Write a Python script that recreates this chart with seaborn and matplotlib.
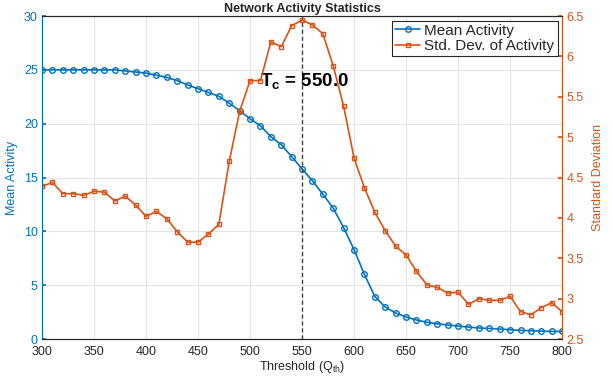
import numpy as np
import pandas as pd
import seaborn as sns
import matplotlib
matplotlib.use('Agg')
import matplotlib.pyplot as plt

# data
threshold = list(range(300, 801, 10))
mean_activity = [25.0, 25.0, 25.0, 25.0, 25.0, 25.0, 25.0, 25.0, 24.9, 24.8,
                 24.7, 24.5, 24.3, 24.0, 23.6, 23.25, 22.9, 22.55, 21.9, 21.2,
                 20.45, 19.8, 18.8, 18.05, 16.95, 15.8, 14.7, 13.45, 12.15, 10.35,
                 8.3, 6.0, 3.95, 2.97, 2.42, 2.05, 1.77, 1.56, 1.42, 1.31,
                 1.21, 1.12, 1.03, 0.99, 0.93, 0.87, 0.81, 0.77, 0.74, 0.71, 0.71]
std_activity = [4.39, 4.44, 4.30, 4.30, 4.28, 4.33, 4.32, 4.21, 4.27, 4.16,
                4.02, 4.08, 3.99, 3.83, 3.70, 3.70, 3.80, 3.92, 4.70, 5.32,
                5.70, 5.70, 6.18, 6.12, 6.38, 6.45, 6.39, 6.28, 5.88, 5.38,
                4.74, 4.37, 4.07, 3.84, 3.65, 3.54, 3.34, 3.17, 3.14, 3.07,
                3.08, 2.93, 3.00, 2.98, 2.98, 3.03, 2.84, 2.80, 2.89, 2.95, 2.84]
t_c = 550.0

df = pd.DataFrame({'threshold': threshold, 'mean': mean_activity, 'std': std_activity})

blue = '#0072BD'
orange = '#D95319'
dark = '#262626'

sns.set_theme(style='white')
plt.rcParams['font.family'] = ['Liberation Sans', 'DejaVu Sans']
plt.rcParams['mathtext.fontset'] = 'custom'
plt.rcParams['mathtext.rm'] = 'Liberation Sans'
plt.rcParams['mathtext.bf'] = 'Liberation Sans:bold'
plt.rcParams['mathtext.it'] = 'Liberation Sans:italic'
plt.rcParams['xtick.direction'] = 'in'
plt.rcParams['ytick.direction'] = 'in'

fig, ax = plt.subplots(figsize=(6.13, 3.81), dpi=100)
fig.subplots_adjust(left=0.0685, right=0.917, top=0.958, bottom=0.11)
ax2 = ax.twinx()

sns.lineplot(data=df, x='threshold', y='mean', ax=ax, color=blue, marker='o',
             markersize=4, markerfacecolor='none', markeredgecolor=blue,
             markeredgewidth=1, linewidth=1.2, label='Mean Activity', legend=False)
sns.lineplot(data=df, x='threshold', y='std', ax=ax2, color=orange, marker='s',
             markersize=3.5, markerfacecolor='none', markeredgecolor=orange,
             markeredgewidth=1, linewidth=1.2, label='Std. Dev. of Activity', legend=False)

ax.axvline(t_c, color='#444444', linestyle='--', linewidth=1, dashes=(3, 2))
ax.text(510, 24.0, r'$\mathbf{T_c}$' + ' = 550.0', fontsize=13.5, fontweight='bold',
        color='black', va='center', ha='left', zorder=10)

ax.set_xlim(300, 800)
ax.set_ylim(0, 30)
ax2.set_ylim(2.5, 6.5)
ax.set_xticks(range(300, 801, 50))
ax.set_yticks(range(0, 31, 5))
ax2.set_yticks(np.arange(2.5, 6.51, 0.5))
ax2.set_yticklabels(['2.5', '3', '3.5', '4', '4.5', '5', '5.5', '6', '6.5'])

ax.grid(True, color='#e4e4e4', linewidth=0.8)
ax.set_axisbelow(True)

ax.set_xlabel('Threshold (Q$_\\mathregular{th}$)', fontsize=9, color=dark, labelpad=1)
ax.set_ylabel('Mean Activity', fontsize=9, color=blue, labelpad=4)
ax2.set_ylabel('Standard Deviation', fontsize=9, color=orange, labelpad=6)
ax.set_title('Network Activity Statistics', fontsize=9, fontweight='bold', pad=3)

ax.tick_params(axis='x', colors=dark, labelsize=9, length=3, pad=5)
ax.tick_params(axis='y', colors=blue, labelsize=9, length=3, pad=3)
ax2.tick_params(axis='y', colors=orange, labelsize=9, length=3, pad=3)
for a in (ax, ax2):
    a.spines['top'].set_color(dark)
    a.spines['bottom'].set_color(dark)
    a.spines['left'].set_color(blue)
    a.spines['right'].set_color(orange)
    for s in a.spines.values():
        s.set_linewidth(0.8)
ax2.spines['right'].set_alpha(0.6)

h1, l1 = ax.get_legend_handles_labels()
h2, l2 = ax2.get_legend_handles_labels()
leg = ax2.legend(h1 + h2, l1 + l2, loc='upper right', fontsize=11, frameon=True,
                 fancybox=False, framealpha=1, edgecolor=dark, borderpad=0.2,
                 handlelength=1.6, handletextpad=0.3, labelspacing=0.1,
                 borderaxespad=0.3)
leg.get_frame().set_linewidth(0.8)

fig.savefig('out.png', dpi=100)
